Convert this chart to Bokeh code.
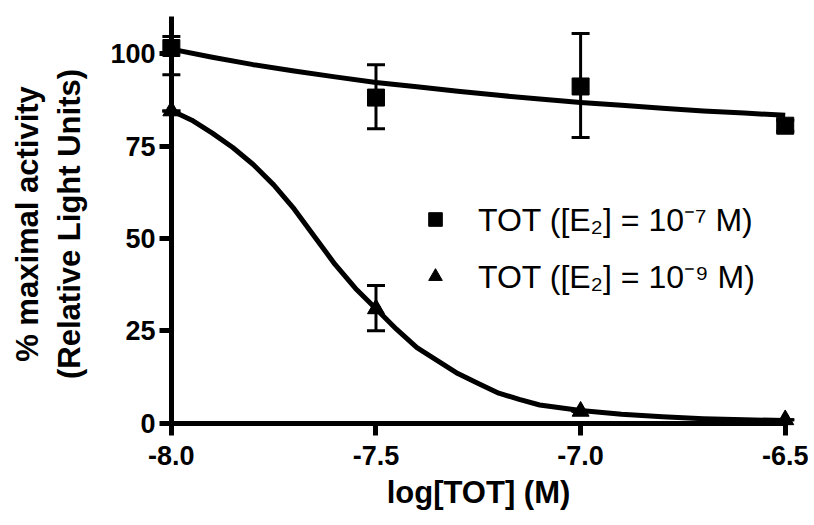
from bokeh.plotting import figure
from bokeh.models import (Range1d, LinearAxis, FixedTicker, PrintfTickFormatter,
                          ColumnDataSource, Whisker, TeeHead, Legend, LegendItem)
from bokeh.embed import file_html
from bokeh.resources import INLINE

# ---- data ----
log_tot = [-8.0, -7.5, -7.0, -6.5]

e2_hi_mean = [101.5, 88.1, 91.1, 80.5]      # TOT ([E2] = 1e-7 M), squares
e2_hi_upper = [104.6, 97.0, 105.4, 82.0]
e2_hi_lower = [94.3, 79.7, 77.3, 79.0]

e2_lo_mean = [84.5, 31.0, 3.3, 1.0]          # TOT ([E2] = 1e-9 M), triangles
e2_lo_upper = [84.5, 37.3, 3.3, 1.0]
e2_lo_lower = [84.5, 25.1, 3.3, 1.0]

# fitted curves
fit_hi_x = [-8.0, -7.9, -7.8, -7.7, -7.6, -7.5, -7.4, -7.3, -7.2, -7.1,
            -7.0, -6.9, -6.8, -6.7, -6.6, -6.5]
fit_hi_y = [101.2, 99.0, 97.0, 95.3, 93.7, 92.2, 91.0, 89.8, 88.7, 87.7,
            86.8, 86.0, 85.2, 84.5, 83.9, 83.3]

fit_lo_x = [-8.0, -7.95, -7.9, -7.85, -7.8, -7.75, -7.7, -7.65, -7.6, -7.55,
            -7.5, -7.45, -7.4, -7.35, -7.3, -7.25, -7.2, -7.15, -7.1, -7.0,
            -6.9, -6.8, -6.7, -6.6, -6.5]
fit_lo_y = [84.6, 82.0, 78.5, 74.6, 70.0, 64.5, 58.0, 50.5, 43.0, 36.5,
            31.0, 25.5, 20.5, 17.0, 13.5, 10.8, 8.2, 6.5, 5.0, 3.5,
            2.5, 1.8, 1.3, 1.0, 0.8]

x_ticks = [-8.0, -7.5, -7.0, -6.5]
y_ticks = [0, 25, 50, 75, 100]
x_bounds = (-8.0, -6.5)
y_bounds = (0, 110)

label_hi = "TOT ([E\u2082] = 10\u207b\u2077 M)"
label_lo = "TOT ([E\u2082] = 10\u207b\u2079 M)"

FONT = "Liberation Sans"

p = figure(width=808, height=518,
           x_range=Range1d(-8.029, -6.47), y_range=Range1d(-3.25, 111.1),
           output_backend="svg", toolbar_location=None,
           x_axis_type=None, y_axis_type=None,
           min_border_left=159, min_border_right=11,
           min_border_top=12, min_border_bottom=83)
p.grid.visible = False
p.outline_line_color = None
p.background_fill_color = "white"

# labelled axes at the frame edges: ticks drawn inwards up to the axis lines
xlab = LinearAxis(ticker=FixedTicker(ticks=x_ticks),
                  formatter=PrintfTickFormatter(format="%.1f"),
                  axis_label="log[TOT] (M)")
ylab = LinearAxis(ticker=FixedTicker(ticks=y_ticks),
                  axis_label="% maximal activity\n(Relative Light Units)")
for ax in (xlab, ylab):
    ax.axis_line_color = None
    ax.major_tick_line_width = 5
    ax.major_tick_line_color = "black"
    ax.major_tick_out = 0
    ax.major_tick_in = 12
    ax.minor_tick_line_color = None
    ax.major_label_text_font = FONT
    ax.major_label_text_font_style = "bold"
    ax.major_label_text_font_size = "27px"
    ax.major_label_text_color = "black"
    ax.axis_label_text_font = FONT
    ax.axis_label_text_font_style = "bold"
    ax.axis_label_text_font_size = "31px"
    ax.axis_label_text_color = "black"
xlab.major_label_standoff = 10
xlab.axis_label_standoff = 7
ylab.major_label_standoff = 4
ylab.axis_label_standoff = 20
p.add_layout(xlab, "below")
p.add_layout(ylab, "left")

# axis lines at x = -8.0 and y = 0
xline = LinearAxis(fixed_location=0, bounds=x_bounds, ticker=FixedTicker(ticks=[]))
yline = LinearAxis(fixed_location=-8.0, bounds=y_bounds, ticker=FixedTicker(ticks=[]))
for ax in (xline, yline):
    ax.axis_line_width = 5
    ax.axis_line_color = "black"
    ax.major_tick_line_color = None
    ax.minor_tick_line_color = None
    ax.major_label_text_font_size = "0px"
p.add_layout(xline, "below")
p.add_layout(yline, "left")

# curves
p.line(fit_hi_x, fit_hi_y, line_width=5, line_color="black", line_join="round")
p.line(fit_lo_x, fit_lo_y, line_width=5, line_color="black", line_join="round")

# error bars
src_hi = ColumnDataSource(dict(x=log_tot, y=e2_hi_mean, upper=e2_hi_upper, lower=e2_hi_lower))
src_lo = ColumnDataSource(dict(x=log_tot, y=e2_lo_mean, upper=e2_lo_upper, lower=e2_lo_lower))
for src in (src_hi, src_lo):
    w = Whisker(source=src, base="x", upper="upper", lower="lower",
                line_width=3, line_color="black",
                upper_head=TeeHead(size=18, line_width=3, line_color="black"),
                lower_head=TeeHead(size=18, line_width=3, line_color="black"))
    p.add_layout(w)

# markers
p.scatter("x", "y", source=src_hi, marker="square", size=17, color="black")
p.scatter("x", "y", source=src_lo, marker="triangle", size=17, color="black")
# smaller copies (hidden under the markers) used as legend glyphs
leg_hi = p.scatter("x", "y", source=src_hi, marker="square", size=14, color="black")
leg_lo = p.scatter("x", "y", source=src_lo, marker="triangle", size=15, color="black")

legend = Legend(items=[LegendItem(label=label_hi, renderers=[leg_hi]),
                       LegendItem(label=label_lo, renderers=[leg_lo])],
                location=(259, 138), orientation="vertical",
                border_line_color=None, background_fill_alpha=0,
                padding=0, margin=0, spacing=14,
                glyph_width=34, glyph_height=34, label_height=30,
                label_standoff=26,
                label_text_font=FONT, label_text_font_size="32px",
                label_text_color="black")
p.add_layout(legend, "center")

open("out.html", "w").write(file_html(p, INLINE))
